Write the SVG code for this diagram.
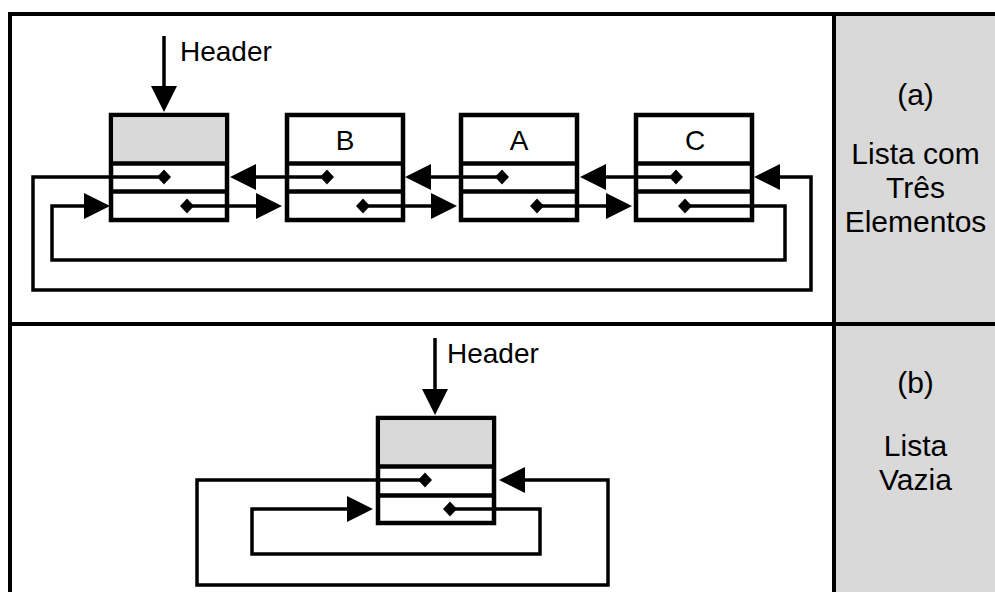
<svg xmlns="http://www.w3.org/2000/svg" width="995" height="592" viewBox="0 0 995 592">
<defs>
<marker id="arr" markerUnits="userSpaceOnUse" markerWidth="27" markerHeight="27" refX="0" refY="13" orient="auto" overflow="visible">
<path d="M0,0 L26,13 L0,26 Z" fill="#000"/>
</marker>
<marker id="dia" markerUnits="userSpaceOnUse" markerWidth="15" markerHeight="16" refX="7" refY="7.5" orient="0" overflow="visible">
<path d="M0,7.5 L7,0 L14,7.5 L7,15 Z" fill="#000"/>
</marker>
</defs>
<style>
.frame{stroke:#000;stroke-width:4;fill:none}
.box{stroke:#000;stroke-width:4.5;fill:#fff}
.cell{fill:#d9d9d9}
.div{stroke:#000;stroke-width:4.5}
.c{stroke:#000;stroke-width:3.5;fill:none;stroke-linejoin:miter}
.ptr{marker-start:url(#dia)}
.arr{marker-end:url(#arr)}
text{font-family:"Liberation Sans",Arial,sans-serif;font-size:28px;fill:#000}
.lbl{text-anchor:middle}
.cap{font-size:30px}
</style>
<rect x="836" y="16" width="159" height="576" fill="#d9d9d9"/>
<g id="frame">
<path class="frame" d="M10,592 V14 H995"/>
<path class="frame" d="M834,14 V592"/>
<path class="frame" d="M8,324 H995"/>
</g>
<g id="caption-a">
<text class="lbl cap" x="915.5" y="105">(a)</text>
<text class="lbl cap" x="915.5" y="164">Lista com</text>
<text class="lbl cap" x="915.5" y="198">Três</text>
<text class="lbl cap" x="915.5" y="232">Elementos</text>
</g>
<g id="caption-b">
<text class="lbl cap" x="915.5" y="393">(b)</text>
<text class="lbl cap" x="915.5" y="456">Lista</text>
<text class="lbl cap" x="915.5" y="490">Vazia</text>
</g>
<g id="header-a">
<rect class="box" x="111" y="115" width="116" height="105"/>
<rect class="cell" x="113.25" y="117.25" width="111.5" height="46"/>
<line class="div" x1="111" y1="163.5" x2="227" y2="163.5"/>
<line class="div" x1="111" y1="191.5" x2="227" y2="191.5"/>
</g>
<g id="node-b">
<rect class="box" x="287" y="115" width="116" height="105"/>
<line class="div" x1="287" y1="163.5" x2="403" y2="163.5"/>
<line class="div" x1="287" y1="191.5" x2="403" y2="191.5"/>
<text class="lbl" x="345" y="150">B</text>
</g>
<g id="node-a">
<rect class="box" x="461" y="115" width="116" height="105"/>
<line class="div" x1="461" y1="163.5" x2="577" y2="163.5"/>
<line class="div" x1="461" y1="191.5" x2="577" y2="191.5"/>
<text class="lbl" x="519" y="150">A</text>
</g>
<g id="node-c">
<rect class="box" x="636" y="115" width="116" height="105"/>
<line class="div" x1="636" y1="163.5" x2="752" y2="163.5"/>
<line class="div" x1="636" y1="191.5" x2="752" y2="191.5"/>
<text class="lbl" x="695" y="150">C</text>
</g>
<g id="header-b">
<rect class="box" x="378" y="418" width="116" height="105"/>
<rect class="cell" x="380.25" y="420.25" width="111.5" height="46"/>
<line class="div" x1="378" y1="466.5" x2="494" y2="466.5"/>
<line class="div" x1="378" y1="495.5" x2="494" y2="495.5"/>
</g>
<g id="connectors">
<path class="c arr" d="M164,36 V86"/>
<text x="180" y="61">Header</text>
<path class="c ptr arr" d="M164,177 H33 V290 H811 V177 H780"/>
<path class="c ptr arr" d="M187,206 H256"/>
<path class="c ptr arr" d="M327,177 H256"/>
<path class="c ptr arr" d="M363,206 H431"/>
<path class="c ptr arr" d="M502,177 H431"/>
<path class="c ptr arr" d="M537,206 H606"/>
<path class="c ptr arr" d="M676,177 H606"/>
<path class="c ptr arr" d="M685,206 H785 V260 H52 V206 H84"/>
<path class="c arr" d="M435,338 V389"/>
<text x="447" y="363">Header</text>
<path class="c ptr arr" d="M425,480 H197 V585 H608 V480 H525"/>
<path class="c ptr arr" d="M450,509 H540 V554 H252 V509 H347"/>
</g>
</svg>
